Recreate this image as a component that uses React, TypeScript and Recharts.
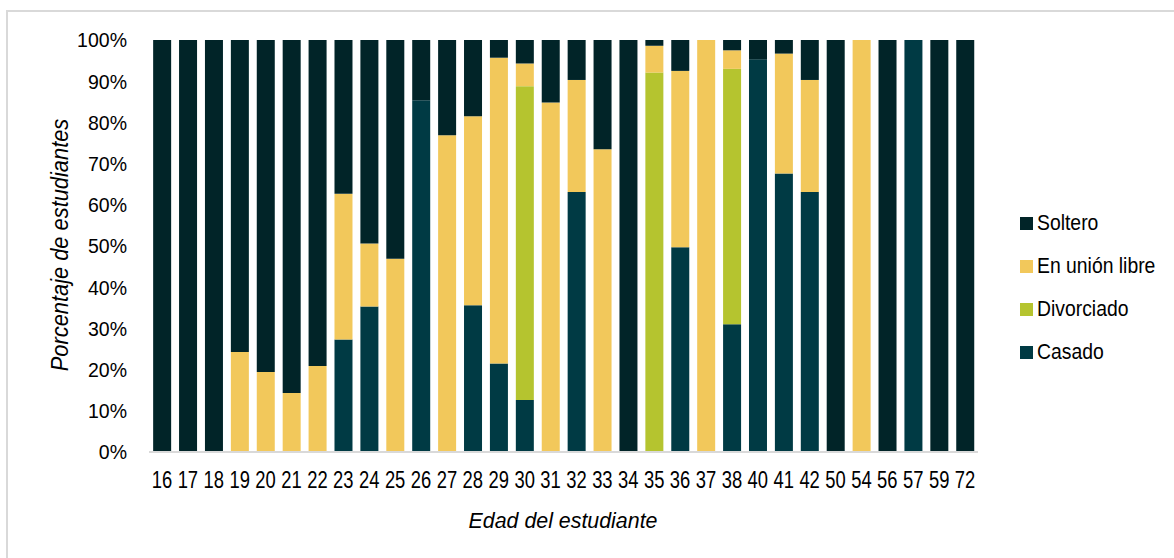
import React from 'react';
import { BarChart, Bar, XAxis, YAxis } from 'recharts';

// Edades y porcentaje por estado civil
const edades = ['16', '17', '18', '19', '20', '21', '22', '23', '24', '25', '26', '27', '28', '29', '30', '31',
  '32', '33', '34', '35', '36', '37', '38', '40', '41', '42', '50', '54', '56', '57', '59', '72'];
const casado = [0, 0, 0, 0, 0, 0, 0, 27.3, 35.3, 0, 85.4, 0, 35.6, 21.5, 12.6, 0,
  63.1, 0, 0, 0, 49.7, 0, 31.0, 95.3, 67.6, 63.1, 0, 0, 0, 100, 0, 0];
const divorciado = [0, 0, 0, 0, 0, 0, 0, 0, 0, 0, 0, 0, 0, 0, 76.2, 0,
  0, 0, 0, 92.1, 0, 0, 62.0, 0, 0, 0, 0, 0, 0, 0, 0, 0];
const unionLibre = [0, 0, 0, 24.3, 19.4, 14.3, 20.9, 35.4, 15.3, 46.9, 0, 76.9, 45.9, 74.2, 5.5, 84.8,
  27.2, 73.5, 0, 6.5, 42.8, 100, 4.5, 0, 29.1, 27.2, 0, 100, 0, 0, 0, 0];
const soltero = [100, 100, 100, 75.7, 80.6, 85.7, 79.1, 37.3, 49.4, 53.1, 14.6, 23.1, 18.5, 4.3, 5.7, 15.2,
  9.7, 26.5, 100, 1.4, 7.5, 0, 2.5, 4.7, 3.3, 9.7, 100, 0, 100, 0, 100, 100];
const yTicks = [0, 0.1, 0.2, 0.3, 0.4, 0.5, 0.6, 0.7, 0.8, 0.9, 1];

// series en orden de apilado (abajo -> arriba)
const series = [
  { key: 'casado', name: 'Casado', color: '#003A44' },
  { key: 'divorciado', name: 'Divorciado', color: '#B5C42F' },
  { key: 'unionLibre', name: 'En unión libre', color: '#F2C85B' },
  { key: 'soltero', name: 'Soltero', color: '#012428' },
];

const data = edades.map((edad, i) => ({
  edad,
  casado: casado[i],
  divorciado: divorciado[i],
  unionLibre: unionLibre[i],
  soltero: soltero[i],
}));

const FONT = "'Liberation Sans', Arial, sans-serif";

// texto algo comprimido, como en el original
const XTick = (props: any) => {
  const { x, y, payload } = props;
  return (
    <text transform={`translate(${x},${y}) scale(0.8,1)`} x={0} y={0} dy="0.71em" textAnchor="middle"
      fontFamily={FONT} fontSize={23} fill="#000">
      {payload.value}
    </text>
  );
};

const YTick = (props: any) => {
  const { x, y, payload } = props;
  return (
    <text transform={`translate(${x},${y}) scale(0.93,1)`} x={0} y={0} dy="0.355em" textAnchor="end"
      fontFamily={FONT} fontSize={21} fill="#000">
      {`${Math.round(payload.value * 100)}%`}
    </text>
  );
};

const YTitle = () => (
  <text transform="translate(60,245) rotate(-90) scale(0.95,1)" x={0} y={0} textAnchor="middle" dominantBaseline="central"
    fontFamily={FONT} fontStyle="italic" fontSize={23} fill="#000">
    Porcentaje de estudiantes
  </text>
);

const XTitle = () => (
  <text transform="translate(563,528) scale(0.93,1)" x={0} y={0} textAnchor="middle"
    fontFamily={FONT} fontStyle="italic" fontSize={23} fill="#000">
    Edad del estudiante
  </text>
);

export default function App() {
  const legendItems = [...series].reverse();
  return (
    <div style={{ position: 'absolute', left: 0, top: 0, width: 1174, height: 558, background: '#fff', overflow: 'hidden' }}>
      <div style={{ position: 'absolute', left: 6, top: 10, width: 1174, height: 560, borderTop: '2px solid #d9d9d9', borderLeft: '2px solid #d9d9d9', boxSizing: 'border-box' }} />
      <BarChart width={1174} height={558} data={data} stackOffset="expand" barCategoryGap="16%"
        margin={{ top: 40, right: 196, left: 0, bottom: 0 }} style={{ position: 'absolute', left: 0, top: 0 }}>
        <XAxis dataKey="edad" height={106} interval={0} tickLine={false} tickMargin={14}
          axisLine={{ stroke: '#d9d9d9', strokeWidth: 2 }} tick={<XTick />} label={<XTitle />} />
        <YAxis width={149} ticks={yTicks} domain={[0, 1]} axisLine={false} tickLine={false} tickMargin={16}
          tick={<YTick />} label={<YTitle />} />
        {series.map(s => (
          <Bar key={s.key} dataKey={s.key} name={s.name} stackId="a" fill={s.color} isAnimationActive={false} />
        ))}
      </BarChart>
      {/* leyenda: Soltero arriba */}
      {legendItems.map((s, i) => (
        <div key={s.key} style={{ position: 'absolute', left: 1020, top: 223 + i * 43 - 14, height: 28, display: 'flex', alignItems: 'center', fontFamily: FONT, fontSize: 22, color: '#000', whiteSpace: 'nowrap' }}>
          <span style={{ width: 13, height: 13, background: s.color, display: 'inline-block', marginRight: 4 }} />
          <span style={{ display: 'inline-block', transform: 'scaleX(0.88)', transformOrigin: 'left center' }}>{s.name}</span>
        </div>
      ))}
    </div>
  );
}
